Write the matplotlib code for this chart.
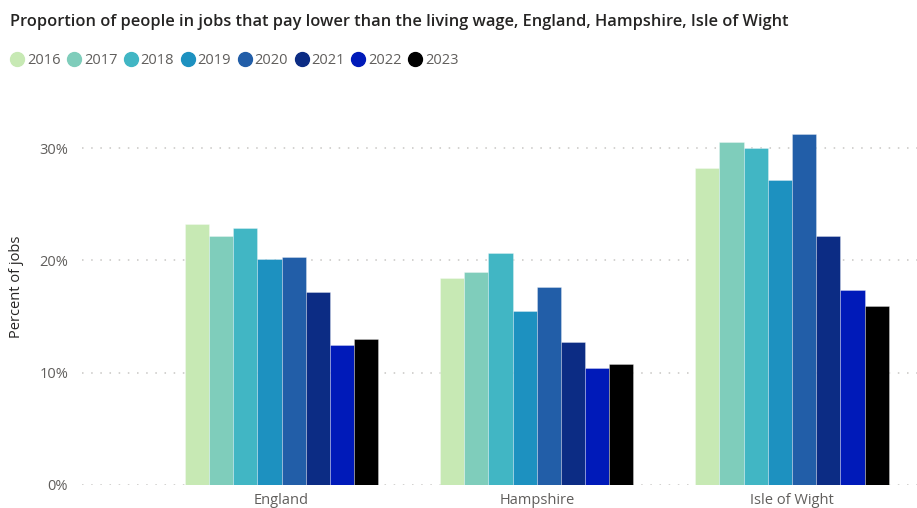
import matplotlib.pyplot as plt
import numpy as np
from matplotlib.lines import Line2D
from matplotlib.ticker import FuncFormatter

areas = ["England", "Hampshire", "Isle of Wight"]
years = ["2016", "2017", "2018", "2019", "2020", "2021", "2022", "2023"]
colors = ["#C7E9B4", "#7FCDBB", "#41B6C4", "#1D91C0", "#225EA8", "#0C2C84", "#001AB9", "#000000"]

# percent of jobs paying below the living wage, one list per year
pct_2016 = [23.2, 18.4, 28.2]
pct_2017 = [22.2, 19.0, 30.5]
pct_2018 = [22.9, 20.7, 30.0]
pct_2019 = [20.1, 15.5, 27.2]
pct_2020 = [20.3, 17.6, 31.3]
pct_2021 = [17.2, 12.7, 22.2]
pct_2022 = [12.5, 10.4, 17.4]
pct_2023 = [13.0, 10.8, 15.9]
series = [pct_2016, pct_2017, pct_2018, pct_2019, pct_2020, pct_2021, pct_2022, pct_2023]

plt.rcParams["font.family"] = ["Open Sans", "DejaVu Sans"]

W, H = 917, 508
fig = plt.figure(figsize=(W / 100, H / 100), dpi=100)

# axes box in pixels: left 82, right 917, bottom 485, top 100
ax = fig.add_axes([82 / W, (H - 485) / H, (917 - 82) / W, (485 - 100) / H])

x = np.arange(len(areas))
bar_w = 0.0947
for i, (year, vals, col) in enumerate(zip(years, series, colors)):
    offs = (i - (len(years) - 1) / 2) * bar_w
    ax.bar(x + offs, vals, width=bar_w, color=col, edgecolor=(1, 1, 1, 0.35),
           linewidth=0.6, zorder=3, label=year)

ax.set_xlim(-0.7816, 2.4897)
ax.set_ylim(0, 385 / 11.23)
ax.set_yticks([0, 10, 20, 30])
ax.yaxis.set_major_formatter(FuncFormatter(lambda v, p: f"{v:.0f}%"))
ax.grid(axis="y", color="#C8C6C4", linestyle=(0, (1, 5)), linewidth=1.1, zorder=0)
ax.set_xticks(x)
ax.set_xticklabels(areas)
for s in ax.spines.values():
    s.set_visible(False)
ax.tick_params(axis="both", length=0, labelsize=10.5, labelcolor="#605E5C")
ax.tick_params(axis="y", pad=10)
ax.tick_params(axis="x", pad=6)
ax.set_ylabel("Percent of jobs", fontsize=10.5, color="#252423")
ax.yaxis.set_label_coords(-58 / 835, 0.514)

fig.text(10 / W, 1 - 22 / H, "Proportion of people in jobs that pay lower than the living wage, England, Hampshire, Isle of Wight",
         fontsize=11.8, fontweight="semibold", color="#252423", va="center", ha="left")

handles = [Line2D([0], [0], marker="o", linestyle="", markersize=10, markerfacecolor=c,
                  markeredgecolor=c) for c in colors]
fig.legend(handles, years, loc="center left", bbox_to_anchor=(8 / W, 1 - 61 / H), ncol=8,
           frameon=False, fontsize=10.5, labelcolor="#605E5C", handletextpad=0.0,
           columnspacing=0.3, handlelength=1.3, borderaxespad=0, borderpad=0)

fig.savefig("out.png", dpi=100)
